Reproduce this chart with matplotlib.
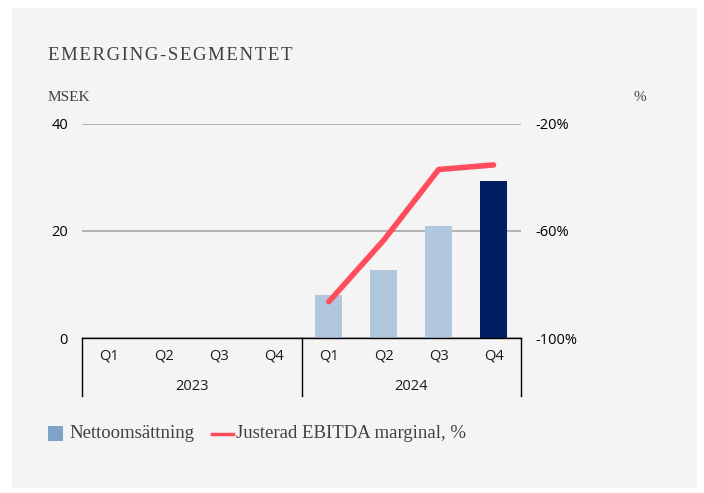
import matplotlib.pyplot as plt
from matplotlib.patches import Rectangle
from matplotlib.lines import Line2D

quarters = ["Q1", "Q2", "Q3", "Q4", "Q1", "Q2", "Q3", "Q4"]
years = ["2023", "2024"]
net_sales = [0, 0, 0, 0, 8.0, 12.7, 20.9, 29.3]  # MSEK
ebitda_margin = [None, None, None, None, -86.4, -63.4, -37.0, -35.3]  # %

W, H = 704, 493
fig = plt.figure(figsize=(W / 100, H / 100), dpi=100)
fig.patch.set_facecolor("white")
fig.patches.append(Rectangle((12 / W, 1 - 488 / H), 685 / W, 480 / H,
                             transform=fig.transFigure, facecolor="#f4f4f4",
                             edgecolor="none", zorder=-10))

ax = fig.add_axes([82 / W, 1 - 338 / H, 439 / W, 214 / H])
ax.set_facecolor("none")

x = list(range(len(quarters)))
bar_colors = ["#b0c7dd"] * 7 + ["#001f63"]
ax.bar(x, net_sales, width=0.49, color=bar_colors, zorder=3)
ax.set_xlim(-0.5, 7.5)
ax.set_ylim(0, 40)
ax.set_yticks([0, 20, 40])
ax.grid(axis="y", color="#a6a6a6", linewidth=1.2, zorder=0)
for s in ["top", "right", "left"]:
    ax.spines[s].set_visible(False)
ax.spines["bottom"].set_color("black")
ax.spines["bottom"].set_linewidth(1.0)
ax.spines["bottom"].set_zorder(4)
ax.tick_params(axis="y", length=0, pad=10, labelsize=10.5)
ax.tick_params(axis="x", length=0, labelbottom=False)
for lab in ax.get_yticklabels():
    lab.set_family("Open Sans")

ax2 = ax.twinx()
ax2.set_ylim(-100, -20)
ax2.set_yticks([-100, -60, -20])
ax2.set_yticklabels(["-100%", "-60%", "-20%"], family="Open Sans")
ax2.tick_params(axis="y", length=0, pad=10, labelsize=10.5)
for s in ax2.spines.values():
    s.set_visible(False)
lx = [i for i, v in zip(x, ebitda_margin) if v is not None]
ly = [v for v in ebitda_margin if v is not None]
ax2.plot(lx, ly, color="#ff4d5e", linewidth=4, solid_capstyle="round", zorder=5)

# category axis labels with group separators
trans = ax.get_xaxis_transform()
for i, q in enumerate(quarters):
    ax.text(i, -0.085, q, transform=trans, ha="center", va="center",
            fontsize=10.5, family="Open Sans", color="#1a1a1a")
for j, yr in enumerate(years):
    ax.text(1.5 + 4 * j, -0.225, yr, transform=trans, ha="center", va="center",
            fontsize=10.5, family="Open Sans", color="#1a1a1a")
for xv in [-0.5, 3.5, 7.5]:
    ax.add_line(Line2D([xv, xv], [0, -0.27], transform=trans, color="black",
                       linewidth=1.0, clip_on=False))

fig.text(48 / W, 1 - 55 / H, "E M E R G I N G - S E G M E N T E T".replace(" ", "\u200a"),
         fontsize=13.5, family="Liberation Serif", color="#404040", va="center")
fig.text(48 / W, 1 - 97 / H, "MSEK", fontsize=11, family="Liberation Serif",
         color="#404040", va="center")
fig.text(633 / W, 1 - 97 / H, "%", fontsize=11, family="Liberation Serif",
         color="#404040", va="center")

# legend
fig.patches.append(Rectangle((48 / W, 1 - 441 / H), 15 / W, 15 / H,
                             transform=fig.transFigure, facecolor="#7fa3c8",
                             edgecolor="none"))
fig.text(69 / W, 1 - 434 / H, "Nettoomsättning", fontsize=13.5,
         family="Liberation Serif", color="#404040", va="center")
fig.lines.append(Line2D([212 / W, 233 / W], [1 - 434 / H, 1 - 434 / H],
                        transform=fig.transFigure, color="#ff4d5e", linewidth=2.5))
fig.text(236 / W, 1 - 434 / H, "Justerad EBITDA marginal, %", fontsize=13.5,
         family="Liberation Serif", color="#404040", va="center")

fig.savefig("out.png", dpi=100, facecolor=fig.get_facecolor())
